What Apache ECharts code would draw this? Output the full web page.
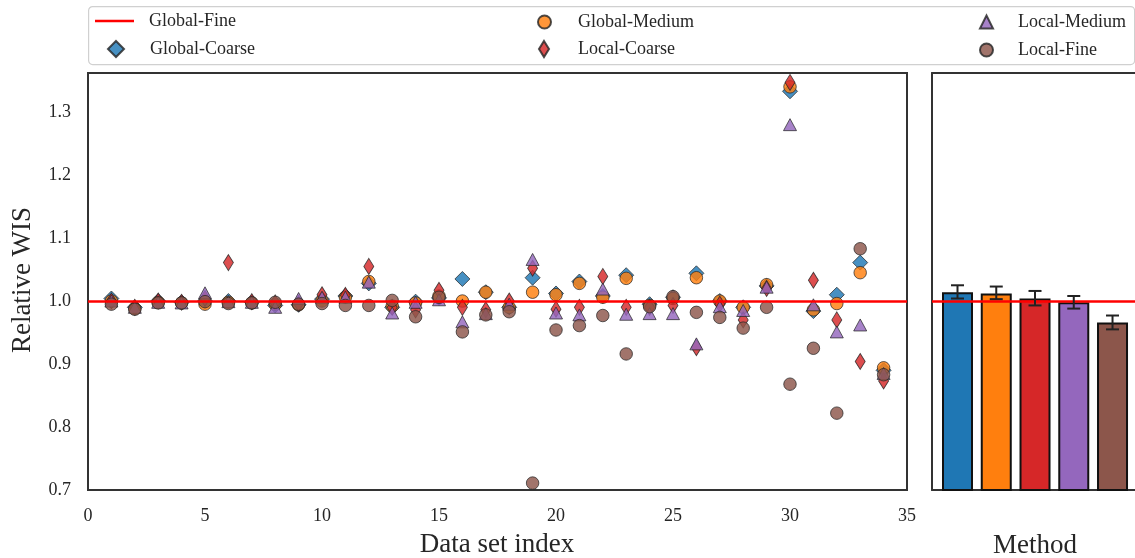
<!DOCTYPE html>
<html>
<head>
<meta charset="utf-8">
<script src="https://cdn.jsdelivr.net/npm/echarts@6/dist/echarts.min.js"></script>
<style>
html,body{margin:0;padding:0;background:#fff;}
#chart{width:1135px;height:558px;}
</style>
</head>
<body>
<div id="chart"></div>
<script>
// ---- data ----
const datasetIndex = [1,2,3,4,5,6,7,8,9,10,11,12,13,14,15,16,17,18,19,20,21,22,23,24,25,26,27,28,29,30,31,32,33,34];
const globalFine = 1.0;
const globalCoarse = [1.004,0.990,1.000,0.998,1.000,1.000,0.998,0.993,0.994,1.003,1.008,1.028,0.990,0.999,1.005,1.035,1.014,0.990,1.037,1.012,1.031,1.008,1.041,0.995,1.006,1.044,1.000,0.990,1.024,1.333,0.984,1.010,1.061,0.890];
const globalMedium = [1.000,0.988,0.998,0.997,0.995,0.998,0.997,0.995,0.994,1.000,1.006,1.031,0.992,0.997,1.008,1.000,1.014,0.990,1.014,1.010,1.028,1.006,1.036,0.993,1.004,1.037,1.000,0.990,1.026,1.340,0.986,0.996,1.045,0.894];
const localCoarse = [1.000,0.990,1.000,0.998,1.004,1.061,0.999,0.997,0.996,1.010,1.009,1.055,0.990,0.986,1.017,0.990,0.986,1.000,1.052,0.987,0.990,1.039,0.990,0.990,0.993,0.926,0.995,0.970,1.020,1.347,1.033,0.970,0.904,0.873];
const localMedium = [1.000,0.990,0.998,0.997,1.013,0.999,0.998,0.990,1.004,1.006,1.006,1.030,0.981,0.998,1.002,0.967,0.980,0.995,1.066,0.981,0.978,1.019,0.979,0.980,0.980,0.932,0.991,0.985,1.022,1.280,0.994,0.951,0.962,0.885];
const localFine = [0.995,0.987,0.997,0.997,0.999,0.996,0.997,0.998,0.995,0.996,0.993,0.993,1.001,0.975,1.006,0.951,0.978,0.983,0.711,0.954,0.961,0.977,0.916,0.991,1.007,0.982,0.974,0.957,0.990,0.868,0.925,0.822,1.083,0.883];

const methods = ['Global-Coarse','Global-Medium','Local-Coarse','Local-Medium','Local-Fine'];
const barMeans = [1.014,1.012,1.004,0.998,0.966];
const barErrLow = [1.004,1.003,0.993,0.988,0.955];
const barErrHigh = [1.025,1.023,1.016,1.008,0.977];

const xTickMin = 0, xTickMax = 35, xTickStep = 5;
const yTickMin = 0.7, yTickStep = 0.1, yTopLimit = 1.362;

// ---- styles ----
const FONT = 'Liberation Serif';
const TXT = '#262626';
const SPINE = '#333';
const colors = ['#1f77b4','#ff7f0e','#d62728','#9467bd','#8c564b'];
const thinDiamond = 'path://M5,0 L10,8 L5,16 L0,8 Z';

function pts(arr){ return datasetIndex.map((x,i)=>[x, arr[i]]); }

const markerStyle = (c) => ({color:c, opacity:0.82, borderColor:'#262626', borderWidth:0.9});

const chart = echarts.init(document.getElementById('chart'), null, {renderer:'canvas'});

const grid0 = {left:88, top:73, width:819, height:417, show:true, borderColor:SPINE, borderWidth:2, backgroundColor:'transparent'};
const grid1 = {left:932, top:73, width:203, height:417, show:false};

const yAxisCommon = {
  type:'value', min:yTickMin, max:yTopLimit, interval:yTickStep,
  axisTick:{show:false}, splitLine:{show:false}
};
const legText = (pl) => ({fontFamily:FONT, fontSize:18, color:TXT, padding:[0,0,0,pl]});

const option = {
  animation:false,
  backgroundColor:'#fff',
  grid:[grid0, grid1],
  xAxis:[
    {gridIndex:0, type:'value', min:xTickMin, max:xTickMax, interval:xTickStep,
     axisLine:{show:false}, axisTick:{show:false}, splitLine:{show:false},
     axisLabel:{fontFamily:FONT, fontSize:18, color:TXT, margin:17}},
    {gridIndex:1, type:'value', min:-0.658, max:4.58, position:'bottom',
     axisLine:{show:true, onZero:false, lineStyle:{color:SPINE, width:2}}, axisTick:{show:false}, splitLine:{show:false}, axisLabel:{show:false}},
    {gridIndex:1, type:'value', min:-0.658, max:4.58, position:'top',
     axisLine:{show:true, onZero:false, lineStyle:{color:SPINE, width:2}}, axisTick:{show:false}, splitLine:{show:false}, axisLabel:{show:false}}
  ],
  yAxis:[
    Object.assign({gridIndex:0, axisLine:{show:false}, axisLabel:{fontFamily:FONT, fontSize:18, color:TXT, margin:17, showMaxLabel:false,
      formatter:(v)=>v.toFixed(1)}}, yAxisCommon),
    Object.assign({gridIndex:1, axisLine:{show:true, onZero:false, lineStyle:{color:SPINE, width:2}}, axisLabel:{show:false}}, yAxisCommon)
  ],
  legend:[
    {data:[{name:'Global-Fine', icon:'rect'}], left:95, top:12, itemWidth:39, itemHeight:2.5, selectedMode:false, padding:0,
     textStyle:legText(10)},
    {data:[{name:'Global-Coarse', icon:'diamond'}], left:107, top:40, itemWidth:16, itemHeight:16, selectedMode:false, padding:0,
     textStyle:legText(21)},
    {data:[{name:'Global-Medium', icon:'circle'}], left:537, top:13, itemWidth:13, itemHeight:13, selectedMode:false, padding:0,
     textStyle:legText(22)},
    {data:[{name:'Local-Coarse', icon:thinDiamond}], left:538, top:40, itemWidth:10, itemHeight:16, selectedMode:false, padding:0,
     textStyle:legText(24)},
    {data:[{name:'Local-Medium', icon:'triangle'}], left:979, top:13, itemWidth:13, itemHeight:13, selectedMode:false, padding:0,
     textStyle:legText(20)},
    {data:[{name:'Local-Fine', icon:'circle'}], left:979, top:41, itemWidth:13, itemHeight:13, selectedMode:false, padding:0,
     textStyle:legText(20)}
  ],
  graphic:[
    {type:'rect', left:88, top:6, z:-1, shape:{width:1046, height:58, r:4},
     style:{fill:'#fff', stroke:'#d0d0d0', lineWidth:1.2}},
    {type:'text', x:497, y:545, style:{text:'Data set index', font:'27px "Liberation Serif"', fill:TXT, align:'center', verticalAlign:'middle'}},
    {type:'text', x:1035, y:546, style:{text:'Method', font:'27px "Liberation Serif"', fill:TXT, align:'center', verticalAlign:'middle'}},
    {type:'text', x:23, y:280, rotation:Math.PI/2, style:{text:'Relative WIS', font:'27px "Liberation Serif"', fill:TXT, align:'center', verticalAlign:'middle'}}
  ],
  series:[
    {name:'Global-Fine', type:'line', xAxisIndex:0, yAxisIndex:0, data:[], showSymbol:false,
     itemStyle:{color:'#ff0000'}, lineStyle:{color:'#ff0000', width:2.5},
     markLine:{silent:true, symbol:'none', label:{show:false}, lineStyle:{color:'#ff0000', width:2.5, type:'solid'},
       data:[{yAxis:globalFine}]}, z:3},
    {name:'Global-Coarse', type:'scatter', xAxisIndex:0, yAxisIndex:0, data:pts(globalCoarse),
     symbol:'diamond', symbolSize:[15,15], itemStyle:markerStyle(colors[0]), z:4},
    {name:'Global-Medium', type:'scatter', xAxisIndex:0, yAxisIndex:0, data:pts(globalMedium),
     symbol:'circle', symbolSize:12.5, itemStyle:markerStyle(colors[1]), z:4},
    {name:'Local-Coarse', type:'scatter', xAxisIndex:0, yAxisIndex:0, data:pts(localCoarse),
     symbol:thinDiamond, symbolSize:[10,16], symbolKeepAspect:false, itemStyle:markerStyle(colors[2]), z:4},
    {name:'Local-Medium', type:'scatter', xAxisIndex:0, yAxisIndex:0, data:pts(localMedium),
     symbol:'triangle', symbolSize:[13,12], itemStyle:markerStyle(colors[3]), z:4},
    {name:'Local-Fine', type:'scatter', xAxisIndex:0, yAxisIndex:0, data:pts(localFine),
     symbol:'circle', symbolSize:12.5, itemStyle:markerStyle(colors[4]), z:4},
    {name:'bars', type:'bar', xAxisIndex:1, yAxisIndex:1, barWidth:31,
     data:barMeans.map((v,i)=>({value:[i, v], itemStyle:{color:colors[i]}})),
     itemStyle:{borderColor:'#111', borderWidth:2},
     markLine:{silent:true, symbol:'none', label:{show:false}, lineStyle:{color:'#ff0000', width:2.5, type:'solid'},
       data:[{yAxis:globalFine}]}, z:2},
    {name:'errors', type:'custom', xAxisIndex:1, yAxisIndex:1,
     data:barMeans.map((v,i)=>[i, barErrLow[i], barErrHigh[i]]),
     renderItem:function(params, api){
       const x = api.value(0);
       const lo = api.coord([x, api.value(1)]);
       const hi = api.coord([x, api.value(2)]);
       const cap = 6.5;
       const st = {stroke:'#222', lineWidth:2};
       return {type:'group', children:[
         {type:'line', shape:{x1:lo[0], y1:lo[1], x2:hi[0], y2:hi[1]}, style:st},
         {type:'line', shape:{x1:lo[0]-cap, y1:lo[1], x2:lo[0]+cap, y2:lo[1]}, style:st},
         {type:'line', shape:{x1:hi[0]-cap, y1:hi[1], x2:hi[0]+cap, y2:hi[1]}, style:st}
       ]};
     }, z:5}
  ]
};
chart.setOption(option);
</script>
</body>
</html>
